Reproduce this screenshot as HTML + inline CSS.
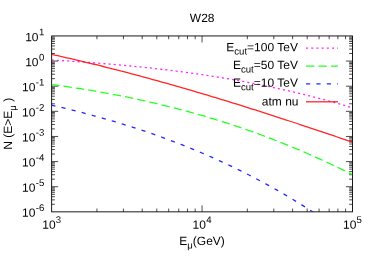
<!DOCTYPE html><html><head><meta charset="utf-8"><style>html,body{margin:0;padding:0;background:#fff}svg{display:block;will-change:transform}text{font-family:"Liberation Sans",sans-serif;fill:#000}</style></head><body>
<svg width="374" height="262" viewBox="0 0 374 262">
<rect width="374" height="262" fill="#fff"/>
<g stroke="#000" stroke-width="0.9" fill="none" stroke-linecap="butt">
<rect x="51.65" y="35.95" width="300.8" height="175.9"/>
<path stroke-width="0.7" d="M96.92,211.85 v-3.30 M96.92,35.95 v3.30 M123.41,211.85 v-3.30 M123.41,35.95 v3.30 M142.20,211.85 v-3.30 M142.20,35.95 v3.30 M156.78,211.85 v-3.30 M156.78,35.95 v3.30 M168.68,211.85 v-3.30 M168.68,35.95 v3.30 M178.75,211.85 v-3.30 M178.75,35.95 v3.30 M187.47,211.85 v-3.30 M187.47,35.95 v3.30 M195.17,211.85 v-3.30 M195.17,35.95 v3.30 M202.05,211.85 v-6.50 M202.05,35.95 v6.50 M247.32,211.85 v-3.30 M247.32,35.95 v3.30 M273.81,211.85 v-3.30 M273.81,35.95 v3.30 M292.60,211.85 v-3.30 M292.60,35.95 v3.30 M307.18,211.85 v-3.30 M307.18,35.95 v3.30 M319.08,211.85 v-3.30 M319.08,35.95 v3.30 M329.15,211.85 v-3.30 M329.15,35.95 v3.30 M337.87,211.85 v-3.30 M337.87,35.95 v3.30 M345.57,211.85 v-3.30 M345.57,35.95 v3.30 M51.65,204.29 h3.30 M352.45,204.29 h-3.30 M51.65,199.86 h3.30 M352.45,199.86 h-3.30 M51.65,196.72 h3.30 M352.45,196.72 h-3.30 M51.65,194.29 h3.30 M352.45,194.29 h-3.30 M51.65,192.30 h3.30 M352.45,192.30 h-3.30 M51.65,190.61 h3.30 M352.45,190.61 h-3.30 M51.65,189.16 h3.30 M352.45,189.16 h-3.30 M51.65,187.87 h3.30 M352.45,187.87 h-3.30 M51.65,186.72 h6.50 M352.45,186.72 h-6.50 M51.65,179.16 h3.30 M352.45,179.16 h-3.30 M51.65,174.73 h3.30 M352.45,174.73 h-3.30 M51.65,171.59 h3.30 M352.45,171.59 h-3.30 M51.65,169.16 h3.30 M352.45,169.16 h-3.30 M51.65,167.17 h3.30 M352.45,167.17 h-3.30 M51.65,165.49 h3.30 M352.45,165.49 h-3.30 M51.65,164.03 h3.30 M352.45,164.03 h-3.30 M51.65,162.74 h3.30 M352.45,162.74 h-3.30 M51.65,161.59 h6.50 M352.45,161.59 h-6.50 M51.65,154.03 h3.30 M352.45,154.03 h-3.30 M51.65,149.60 h3.30 M352.45,149.60 h-3.30 M51.65,146.46 h3.30 M352.45,146.46 h-3.30 M51.65,144.03 h3.30 M352.45,144.03 h-3.30 M51.65,142.04 h3.30 M352.45,142.04 h-3.30 M51.65,140.36 h3.30 M352.45,140.36 h-3.30 M51.65,138.90 h3.30 M352.45,138.90 h-3.30 M51.65,137.61 h3.30 M352.45,137.61 h-3.30 M51.65,136.46 h6.50 M352.45,136.46 h-6.50 M51.65,128.90 h3.30 M352.45,128.90 h-3.30 M51.65,124.47 h3.30 M352.45,124.47 h-3.30 M51.65,121.34 h3.30 M352.45,121.34 h-3.30 M51.65,118.90 h3.30 M352.45,118.90 h-3.30 M51.65,116.91 h3.30 M352.45,116.91 h-3.30 M51.65,115.23 h3.30 M352.45,115.23 h-3.30 M51.65,113.77 h3.30 M352.45,113.77 h-3.30 M51.65,112.49 h3.30 M352.45,112.49 h-3.30 M51.65,111.34 h6.50 M352.45,111.34 h-6.50 M51.65,103.77 h3.30 M352.45,103.77 h-3.30 M51.65,99.35 h3.30 M352.45,99.35 h-3.30 M51.65,96.21 h3.30 M352.45,96.21 h-3.30 M51.65,93.77 h3.30 M352.45,93.77 h-3.30 M51.65,91.78 h3.30 M352.45,91.78 h-3.30 M51.65,90.10 h3.30 M352.45,90.10 h-3.30 M51.65,88.64 h3.30 M352.45,88.64 h-3.30 M51.65,87.36 h3.30 M352.45,87.36 h-3.30 M51.65,86.21 h6.50 M352.45,86.21 h-6.50 M51.65,78.64 h3.30 M352.45,78.64 h-3.30 M51.65,74.22 h3.30 M352.45,74.22 h-3.30 M51.65,71.08 h3.30 M352.45,71.08 h-3.30 M51.65,68.64 h3.30 M352.45,68.64 h-3.30 M51.65,66.65 h3.30 M352.45,66.65 h-3.30 M51.65,64.97 h3.30 M352.45,64.97 h-3.30 M51.65,63.51 h3.30 M352.45,63.51 h-3.30 M51.65,62.23 h3.30 M352.45,62.23 h-3.30 M51.65,61.08 h6.50 M352.45,61.08 h-6.50 M51.65,53.51 h3.30 M352.45,53.51 h-3.30 M51.65,49.09 h3.30 M352.45,49.09 h-3.30 M51.65,45.95 h3.30 M352.45,45.95 h-3.30 M51.65,43.51 h3.30 M352.45,43.51 h-3.30 M51.65,41.52 h3.30 M352.45,41.52 h-3.30 M51.65,39.84 h3.30 M352.45,39.84 h-3.30 M51.65,38.39 h3.30 M352.45,38.39 h-3.30 M51.65,37.10 h3.30 M352.45,37.10 h-3.30"/>
</g>
<clipPath id="c"><rect x="51.65" y="35.95" width="300.8" height="175.9"/></clipPath>
<g fill="none" stroke-width="1.3" stroke-opacity="0.85" stroke-linecap="butt" stroke-linejoin="round">
<g clip-path="url(#c)">
<path d="M51.65,60.01 L54.69,60.18 L57.73,60.36 L60.77,60.55 L63.80,60.73 L66.84,60.93 L69.88,61.12 L72.92,61.32 L75.96,61.52 L79.00,61.73 L82.03,61.94 L85.07,62.16 L88.11,62.38 L91.15,62.61 L94.19,62.84 L97.23,63.07 L100.26,63.31 L103.30,63.56 L106.34,63.80 L109.38,64.06 L112.42,64.32 L115.46,64.58 L118.49,64.85 L121.53,65.13 L124.57,65.41 L127.61,65.70 L130.65,65.99 L133.69,66.28 L136.72,66.59 L139.76,66.90 L142.80,67.21 L145.84,67.53 L148.88,67.86 L151.92,68.19 L154.96,68.53 L157.99,68.88 L161.03,69.23 L164.07,69.59 L167.11,69.95 L170.15,70.33 L173.19,70.70 L176.22,71.09 L179.26,71.48 L182.30,71.88 L185.34,72.29 L188.38,72.70 L191.42,73.12 L194.45,73.55 L197.49,73.98 L200.53,74.43 L203.57,74.88 L206.61,75.33 L209.65,75.80 L212.68,76.27 L215.72,76.75 L218.76,77.24 L221.80,77.74 L224.84,78.24 L227.88,78.76 L230.91,79.28 L233.95,79.81 L236.99,80.34 L240.03,80.89 L243.07,81.45 L246.11,82.01 L249.14,82.58 L252.18,83.16 L255.22,83.75 L258.26,84.35 L261.30,84.96 L264.34,85.58 L267.38,86.20 L270.41,86.84 L273.45,87.49 L276.49,88.14 L279.53,88.80 L282.57,89.48 L285.61,90.16 L288.64,90.85 L291.68,91.56 L294.72,92.27 L297.76,92.99 L300.80,93.73 L303.84,94.47 L306.87,95.22 L309.91,95.99 L312.95,96.76 L315.99,97.54 L319.03,98.34 L322.07,99.15 L325.10,99.96 L328.14,100.79 L331.18,101.63 L334.22,102.48 L337.26,103.34 L340.30,104.21 L343.33,105.09 L346.37,105.99 L349.41,106.89 L352.45,107.81" stroke="#ff00ff" stroke-dasharray="2.075 3.112"/>
<path d="M51.65,84.58 L54.69,84.98 L57.73,85.39 L60.77,85.81 L63.80,86.24 L66.84,86.67 L69.88,87.12 L72.92,87.57 L75.96,88.03 L79.00,88.50 L82.03,88.98 L85.07,89.46 L88.11,89.96 L91.15,90.46 L94.19,90.98 L97.23,91.50 L100.26,92.03 L103.30,92.57 L106.34,93.12 L109.38,93.68 L112.42,94.25 L115.46,94.83 L118.49,95.41 L121.53,96.01 L124.57,96.62 L127.61,97.23 L130.65,97.86 L133.69,98.49 L136.72,99.14 L139.76,99.79 L142.80,100.46 L145.84,101.14 L148.88,101.82 L151.92,102.52 L154.96,103.22 L157.99,103.94 L161.03,104.67 L164.07,105.41 L167.11,106.15 L170.15,106.91 L173.19,107.68 L176.22,108.46 L179.26,109.26 L182.30,110.06 L185.34,110.87 L188.38,111.70 L191.42,112.53 L194.45,113.38 L197.49,114.24 L200.53,115.11 L203.57,115.99 L206.61,116.88 L209.65,117.79 L212.68,118.70 L215.72,119.63 L218.76,120.57 L221.80,121.52 L224.84,122.49 L227.88,123.46 L230.91,124.45 L233.95,125.45 L236.99,126.46 L240.03,127.49 L243.07,128.52 L246.11,129.57 L249.14,130.63 L252.18,131.71 L255.22,132.79 L258.26,133.89 L261.30,135.01 L264.34,136.13 L267.38,137.27 L270.41,138.42 L273.45,139.58 L276.49,140.76 L279.53,141.95 L282.57,143.16 L285.61,144.37 L288.64,145.60 L291.68,146.85 L294.72,148.11 L297.76,149.38 L300.80,150.66 L303.84,151.96 L306.87,153.27 L309.91,154.60 L312.95,155.94 L315.99,157.30 L319.03,158.67 L322.07,160.05 L325.10,161.45 L328.14,162.86 L331.18,164.28 L334.22,165.72 L337.26,167.18 L340.30,168.65 L343.33,170.13 L346.37,171.63 L349.41,173.15 L352.45,174.67" stroke="#00ff00" stroke-dashoffset="0.5" stroke-dasharray="8.32 4.16"/>
<path d="M51.65,105.15 L54.36,105.78 L57.07,106.41 L59.78,107.05 L62.49,107.70 L65.20,108.35 L67.91,109.01 L70.62,109.68 L73.33,110.36 L76.05,111.04 L78.76,111.73 L81.47,112.43 L84.18,113.14 L86.89,113.85 L89.60,114.58 L92.31,115.31 L95.02,116.05 L97.73,116.79 L100.44,117.55 L103.15,118.32 L105.86,119.09 L108.57,119.87 L111.28,120.66 L113.99,121.47 L116.70,122.28 L119.42,123.09 L122.13,123.92 L124.84,124.76 L127.55,125.61 L130.26,126.47 L132.97,127.33 L135.68,128.21 L138.39,129.10 L141.10,129.99 L143.81,130.90 L146.52,131.82 L149.23,132.74 L151.94,133.68 L154.65,134.63 L157.36,135.59 L160.07,136.56 L162.78,137.54 L165.50,138.53 L168.21,139.54 L170.92,140.55 L173.63,141.58 L176.34,142.61 L179.05,143.66 L181.76,144.72 L184.47,145.79 L187.18,146.88 L189.89,147.97 L192.60,149.08 L195.31,150.20 L198.02,151.33 L200.73,152.48 L203.44,153.63 L206.15,154.80 L208.87,155.98 L211.58,157.18 L214.29,158.38 L217.00,159.60 L219.71,160.84 L222.42,162.08 L225.13,163.34 L227.84,164.62 L230.55,165.90 L233.26,167.20 L235.97,168.52 L238.68,169.84 L241.39,171.18 L244.10,172.54 L246.81,173.91 L249.52,175.29 L252.23,176.69 L254.95,178.10 L257.66,179.53 L260.37,180.97 L263.08,182.42 L265.79,183.90 L268.50,185.38 L271.21,186.88 L273.92,188.40 L276.63,189.93 L279.34,191.47 L282.05,193.03 L284.76,194.61 L287.47,196.20 L290.18,197.81 L292.89,199.44 L295.60,201.08 L298.32,202.73 L301.03,204.40 L303.74,206.09 L306.45,207.80 L309.16,209.52 L311.87,211.25 L314.58,213.01 L317.29,214.78 L320.00,216.57" stroke="#0000ff" stroke-dashoffset="0.3" stroke-dasharray="4.16 6.24"/>
<path d="M51.65,54.39 L54.69,55.06 L57.73,55.73 L60.77,56.41 L63.80,57.10 L66.84,57.79 L69.88,58.48 L72.92,59.18 L75.96,59.89 L79.00,60.60 L82.03,61.32 L85.07,62.05 L88.11,62.78 L91.15,63.51 L94.19,64.25 L97.23,64.99 L100.26,65.74 L103.30,66.50 L106.34,67.26 L109.38,68.03 L112.42,68.80 L115.46,69.57 L118.49,70.35 L121.53,71.14 L124.57,71.93 L127.61,72.72 L130.65,73.52 L133.69,74.33 L136.72,75.14 L139.76,75.95 L142.80,76.77 L145.84,77.60 L148.88,78.42 L151.92,79.26 L154.96,80.09 L157.99,80.93 L161.03,81.78 L164.07,82.63 L167.11,83.49 L170.15,84.34 L173.19,85.21 L176.22,86.07 L179.26,86.95 L182.30,87.82 L185.34,88.70 L188.38,89.59 L191.42,90.47 L194.45,91.36 L197.49,92.26 L200.53,93.16 L203.57,94.06 L206.61,94.97 L209.65,95.88 L212.68,96.80 L215.72,97.71 L218.76,98.64 L221.80,99.56 L224.84,100.49 L227.88,101.42 L230.91,102.36 L233.95,103.30 L236.99,104.24 L240.03,105.19 L243.07,106.14 L246.11,107.09 L249.14,108.05 L252.18,109.01 L255.22,109.97 L258.26,110.93 L261.30,111.90 L264.34,112.87 L267.38,113.85 L270.41,114.83 L273.45,115.81 L276.49,116.79 L279.53,117.78 L282.57,118.77 L285.61,119.76 L288.64,120.75 L291.68,121.75 L294.72,122.75 L297.76,123.75 L300.80,124.76 L303.84,125.77 L306.87,126.77 L309.91,127.79 L312.95,128.80 L315.99,129.82 L319.03,130.84 L322.07,131.86 L325.10,132.88 L328.14,133.91 L331.18,134.94 L334.22,135.97 L337.26,137.00 L340.30,138.04 L343.33,139.07 L346.37,140.11 L349.41,141.15 L352.45,142.19" stroke="#ff0000"/>
</g>
<path d="M306,48.2 L338,48.2" stroke="#ff00ff" stroke-dasharray="2.08 3.12"/>
<path d="M306,66.05 L338,66.05" stroke="#00ff00" stroke-dasharray="8.32 4.16"/>
<path d="M306,83.95 L338,83.95" stroke="#0000ff" stroke-dasharray="4.16 6.24"/>
<path d="M306,101.8 L338,101.8" stroke="#ff0000"/>
</g>
<text transform="matrix(1 0.0005 0 1 44.4 216.8)" text-anchor="end" font-size="12.0">10<tspan font-size="9.6" dx="0.5" dy="-5.8">-6</tspan></text>
<text transform="matrix(1 0.0005 0 1 44.4 191.71)" text-anchor="end" font-size="12.0">10<tspan font-size="9.6" dx="0.5" dy="-5.8">-5</tspan></text>
<text transform="matrix(1 0.0005 0 1 44.4 166.61)" text-anchor="end" font-size="12.0">10<tspan font-size="9.6" dx="0.5" dy="-5.8">-4</tspan></text>
<text transform="matrix(1 0.0005 0 1 44.4 141.52)" text-anchor="end" font-size="12.0">10<tspan font-size="9.6" dx="0.5" dy="-5.8">-3</tspan></text>
<text transform="matrix(1 0.0005 0 1 44.4 116.43)" text-anchor="end" font-size="12.0">10<tspan font-size="9.6" dx="0.5" dy="-5.8">-2</tspan></text>
<text transform="matrix(1 0.0005 0 1 44.4 91.34)" text-anchor="end" font-size="12.0">10<tspan font-size="9.6" dx="0.5" dy="-5.8">-1</tspan></text>
<text transform="matrix(1 0.0005 0 1 44.4 66.24)" text-anchor="end" font-size="12.0">10<tspan font-size="9.6" dx="0.5" dy="-5.8">0</tspan></text>
<text transform="matrix(1 0.0005 0 1 44.4 41.15)" text-anchor="end" font-size="12.0">10<tspan font-size="9.6" dx="0.5" dy="-5.8">1</tspan></text>
<text transform="matrix(1 0.0005 0 1 51.65 228.8)" text-anchor="middle" font-size="12.0">10<tspan font-size="9.6" dx="0.2" dy="-5.8">3</tspan></text>
<text transform="matrix(1 0.0005 0 1 202.05 228.8)" text-anchor="middle" font-size="12.0">10<tspan font-size="9.6" dx="0.2" dy="-5.8">4</tspan></text>
<text transform="matrix(1 0.0005 0 1 352.45 228.8)" text-anchor="middle" font-size="12.0">10<tspan font-size="9.6" dx="0.2" dy="-5.8">5</tspan></text>
<text transform="matrix(1 0.0005 0 1 202.2 21.9)" text-anchor="middle" font-size="12.0">W28</text>
<text transform="matrix(1 0.0005 0 1 202.1 244.9)" text-anchor="middle" font-size="12.0">E<tspan font-size="9.6" dy="3.5">μ</tspan><tspan dy="-3.5">(GeV)</tspan></text>
<text transform="matrix(0 -1 1 0.0005 12.3 123.75)" text-anchor="middle" font-size="12.0">N (E&gt;E<tspan font-size="9.6" dy="3.2">μ</tspan><tspan dy="-3.2"> )</tspan></text>
<text transform="matrix(1 0.0005 0 1 297.9 51.25)" text-anchor="end" font-size="12.0">E<tspan font-size="9.6" dy="3.35">cut</tspan><tspan dy="-3.35">=100 TeV</tspan></text>
<text transform="matrix(1 0.0005 0 1 297.9 69.05)" text-anchor="end" font-size="12.0">E<tspan font-size="9.6" dy="3.35">cut</tspan><tspan dy="-3.35">=50 TeV</tspan></text>
<text transform="matrix(1 0.0005 0 1 297.9 86.8)" text-anchor="end" font-size="12.0">E<tspan font-size="9.6" dy="3.35">cut</tspan><tspan dy="-3.35">=10 TeV</tspan></text>
<text transform="matrix(1 0.0005 0 1 298.5 105.5)" text-anchor="end" font-size="12.0">atm nu</text>
</svg></body></html>
